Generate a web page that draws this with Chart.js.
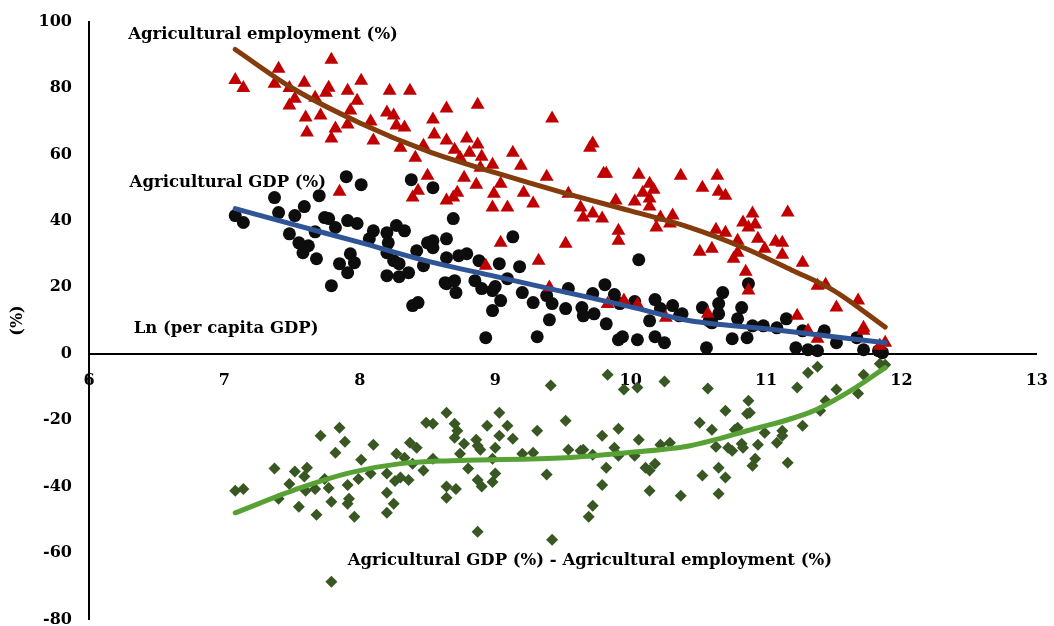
<!DOCTYPE html>
<html>
<head>
<meta charset="utf-8">
<script src="https://cdn.jsdelivr.net/npm/chart.js@4"></script>
<style>
  body { margin: 0; background: #fff; overflow: hidden; }
  canvas { display: block; margin-top: -5px; }
</style>
</head>
<body>
<canvas id="chart" width="1066" height="651"></canvas>
<script>
// scatter points: [ln per capita GDP, %]
const employment = [
  [7.08,82.4],[7.14,80],[7.40,85.8],[7.37,81.3],[7.48,80],[7.59,81.6],[7.52,76.8],[7.48,74.7],[7.79,88.5],[7.67,77.1],
  [7.75,78.6],[7.77,80.1],[7.60,71.1],[7.71,71.7],[7.61,66.6],[7.91,79.2],[8.01,82.2],[7.98,76.2],[7.93,73.2],[7.82,67.8],
  [7.79,64.8],[7.91,69],[8.08,69.9],[8.10,64.2],[8.22,79.2],[8.37,79.2],[8.20,72.6],[8.25,71.7],[8.27,68.7],[8.33,68.1],
  [8.64,73.8],[8.54,70.5],[8.55,66],[8.64,64.2],[8.30,62],[8.41,59],[8.50,53.6],[8.43,49.1],[8.39,47],[7.85,48.8],
  [8.47,62.6],[8.87,75],[9.42,70.8],[8.79,64.8],[8.87,63],[8.70,61.4],[8.81,60.5],[8.90,59.3],[8.74,59],[8.89,56],
  [8.98,56.9],[9.13,60.5],[9.19,56.6],[8.77,53],[9.04,51.2],[8.86,50.9],[9.38,53.3],[8.72,48.5],[8.69,47],[8.64,46.1],
  [8.99,48.2],[9.21,48.5],[8.98,44],[9.09,44],[9.28,45.2],[9.54,48.2],[9.70,62],[9.72,63.3],[9.80,54.2],[9.82,54.2],
  [10.06,53.9],[10.37,53.6],[9.63,44],[9.65,41],[9.72,42.2],[9.79,40.7],[9.89,46.1],[9.91,37],[9.91,34],[10.03,45.8],
  [10.09,48.5],[10.14,51.2],[10.17,49.4],[10.14,46.7],[10.14,44.3],[10.22,41],[10.31,41.6],[10.29,39.2],[10.19,38],[9.04,33.4],
  [9.52,33.1],[10.64,53.6],[10.53,50],[10.65,48.8],[10.70,47.6],[10.90,42.2],[10.83,39.5],[10.87,38],[10.92,38.9],[11.16,42.5],
  [10.63,37.3],[10.70,36.4],[10.79,34],[10.94,34.6],[11.07,33.7],[11.12,33.4],[10.99,31.6],[10.51,30.7],[10.60,31.6],[10.79,30.4],
  [10.76,28.6],[11.12,29.8],[11.27,27.4],[10.85,24.7],[10.87,19],[11.38,20.5],[11.44,20.8],[11.52,13.9],[11.68,16],[11.23,11.4],
  [10.57,12],[11.72,7.8],[11.38,4.5],[11.31,6.9],[11.72,6.9],[11.84,2.4],[11.88,3.3],[9.32,28],[8.93,26.5],[9.40,19.9],
  [9.83,15],[9.95,16],[10.05,14.8],[10.26,10.8]
];

const gdpShare = [
  [7.08,41.6],[7.14,39.5],[7.37,47],[7.40,42.5],[7.48,36.1],[7.52,41.6],[7.59,44.3],[7.55,33.4],[7.58,30.4],[7.62,32.5],
  [7.67,36.7],[7.68,28.6],[7.70,47.6],[7.74,41],[7.77,40.7],[7.82,38],[7.79,20.5],[7.85,27.1],[7.91,24.4],[7.93,30.1],
  [7.96,27.4],[7.91,40.1],[7.98,39.2],[7.90,53.3],[8.01,50.9],[8.10,37],[8.07,34.6],[8.20,36.4],[8.27,38.6],[8.33,37],
  [8.21,33.4],[8.20,30.4],[8.25,28],[8.29,27.1],[8.20,23.5],[8.29,23.2],[8.36,24.4],[8.42,31],[8.47,26.5],[8.50,33.4],
  [8.54,34],[8.54,31.9],[8.38,52.4],[8.54,50],[8.39,14.5],[8.43,15.4],[8.64,34.6],[8.64,21.1],[8.69,40.7],[9.13,35.2],
  [8.64,28.9],[8.73,29.5],[8.79,30.1],[8.88,28],[8.63,21.4],[8.70,22],[8.71,18.4],[8.85,22],[8.90,19.6],[8.98,19],
  [9.00,20.2],[9.03,27.1],[9.04,16],[9.09,22.6],[9.18,26.2],[8.98,13],[8.93,4.8],[9.20,18.4],[9.28,15.4],[9.38,17.5],
  [9.42,15.1],[9.40,10.2],[9.31,5.1],[9.52,13.6],[9.54,19.6],[9.64,13.9],[9.65,11.4],[9.72,18.1],[9.73,12],[9.81,20.8],
  [9.82,9],[9.88,17.8],[9.92,15.1],[9.91,4.2],[9.94,5.1],[10.05,4.2],[10.06,28.3],[10.03,15.7],[10.14,9.9],[10.18,16.3],
  [10.22,13.6],[10.18,5.1],[10.25,3.3],[10.31,14.5],[10.36,11.4],[10.38,12],[10.53,13.9],[10.65,15.1],[10.68,18.4],[10.87,21.1],
  [10.65,12],[10.60,9.3],[10.58,9.9],[10.82,13.9],[10.79,10.5],[10.75,4.5],[10.86,4.8],[10.90,8.4],[10.98,8.4],[11.08,7.8],
  [11.15,10.5],[10.56,1.8],[11.22,1.8],[11.27,6.9],[11.31,1.2],[11.38,0.9],[11.43,6.9],[11.52,3.3],[11.67,4.8],[11.72,1.2],
  [11.83,0.9],[11.86,0.3]
];

const gap = [
  [7.08,-41.3],[7.14,-40.7],[7.37,-34.6],[7.40,-43.7],[7.48,-39.2],[7.52,-35.5],[7.59,-37],[7.61,-34.3],[7.60,-41.3],[7.55,-46.1],
  [7.67,-40.7],[7.68,-48.5],[7.71,-24.7],[7.85,-22.3],[7.89,-26.5],[7.82,-29.8],[7.74,-37.7],[7.77,-40.4],[7.79,-44.6],[7.91,-39.5],
  [7.92,-43.7],[7.91,-45.2],[7.96,-49.1],[7.79,-68.7],[8.01,-31.9],[8.10,-27.4],[7.99,-37.7],[8.08,-36.1],[8.20,-36.1],[8.27,-30.1],
  [8.33,-31.3],[8.26,-38.3],[8.30,-37.3],[8.36,-38],[8.20,-41.9],[8.25,-45.2],[8.20,-47.9],[8.37,-26.8],[8.42,-28.3],[8.39,-33.1],
  [8.47,-35.2],[8.49,-20.8],[8.54,-21.1],[8.64,-17.8],[8.54,-31.6],[8.64,-40],[8.64,-43.4],[8.70,-21.1],[8.72,-23.2],[8.70,-25.3],
  [8.77,-27.1],[8.74,-30.1],[8.80,-34.6],[8.71,-40.7],[8.86,-25.9],[8.87,-27.7],[8.89,-28.9],[8.94,-21.7],[9.03,-17.8],[9.03,-24.7],
  [9.09,-21.7],[9.13,-25.6],[9.00,-28.3],[8.98,-31.6],[9.00,-36.1],[8.98,-38.6],[8.87,-38],[8.90,-40],[8.87,-53.6],[9.20,-30.1],
  [9.28,-29.8],[9.31,-23.2],[9.38,-36.4],[9.41,-9.6],[9.42,-56],[9.52,-20.2],[9.54,-28.9],[9.63,-29.2],[9.65,-28.9],[9.72,-30.4],
  [9.79,-24.7],[9.82,-34.3],[9.79,-39.5],[9.72,-45.8],[9.69,-49.1],[9.83,-6.3],[9.88,-28.3],[9.91,-30.7],[9.91,-22.6],[9.95,-10.8],
  [10.05,-10.2],[10.03,-30.7],[10.06,-25.9],[10.11,-34.3],[10.14,-35.2],[10.18,-33.1],[10.14,-41.3],[10.22,-27.4],[10.29,-26.8],[10.25,-8.4],
  [10.37,-42.8],[10.57,-10.5],[10.51,-20.8],[10.60,-22.9],[10.63,-28],[10.70,-17.2],[10.72,-28.3],[10.75,-29.2],[10.77,-22.9],[10.79,-22.3],
  [10.82,-27.1],[10.83,-28.3],[10.87,-14.2],[10.86,-18.1],[10.88,-17.8],[10.94,-27.4],[10.99,-23.8],[10.92,-31.6],[10.90,-33.7],[10.53,-36.7],
  [10.65,-34.3],[10.70,-37.3],[10.65,-42.2],[11.08,-26.8],[11.12,-23.2],[11.12,-24.7],[11.16,-32.8],[11.27,-21.7],[11.23,-10.2],[11.31,-5.7],
  [11.38,-3.9],[11.40,-17.2],[11.44,-14.2],[11.52,-10.8],[11.68,-12],[11.72,-6.3],[11.84,-3],[11.88,-3.3]
];

// fitted trend curves
const employmentTrend = [[7.08,91.6],[7.5,80],[8,69.5],[8.5,61],[9,54.5],[9.5,48.5],[10,43],[10.44,38],[10.83,32],[11.2,25],[11.5,19],[11.88,8]];
const gdpTrend = [[7.08,43.7],[7.5,39],[8,33.5],[8.5,27.9],[9,23.3],[9.5,18.7],[10,14.1],[10.44,9.9],[11,7.5],[11.5,5.1],[11.88,3.3]];
const gapTrend = [[7.08,-47.9],[7.56,-40.4],[7.93,-35.8],[8.3,-33.1],[8.67,-32.2],[9.52,-31.3],[9.97,-29.8],[10.44,-27.7],[10.86,-23.2],[11.35,-17.2],[11.65,-10.5],[11.88,-4.2]];

const xTicks = { min: 6, max: 13, step: 1 };
const yTicks = { min: -80, max: 100, step: 20 };

const seriesLabels = [
  { text: "Agricultural employment (%)", x: 6.29, y: 96.1 },
  { text: "Agricultural GDP (%)", x: 6.30, y: 51.4 },
  { text: "Ln (per capita GDP)", x: 6.33, y: 7.5 },
  { text: "Agricultural GDP (%) - Agricultural employment (%)", x: 7.91, y: -62.2 }
];

const toXY = (arr) => arr.map((p) => ({ x: p[0], y: p[1] }));

const fontFamily = "'DejaVu Serif', serif";

// draws the series names straight onto the plot
const labelPlugin = {
  id: "seriesLabels",
  afterDatasetsDraw(chart) {
    const { ctx, scales } = chart;
    ctx.save();
    ctx.fillStyle = "#000";
    ctx.font = "bold 16.5px " + fontFamily;
    ctx.textBaseline = "middle";
    ctx.textAlign = "left";
    seriesLabels.forEach((l) => {
      ctx.fillText(l.text, scales.x.getPixelForValue(l.x), scales.y.getPixelForValue(l.y));
    });
    ctx.restore();
  },
};

const trendLine = (data, color) => ({
  type: "scatter",
  data: toXY(data),
  showLine: true,
  borderColor: color,
  borderWidth: 5,
  borderCapStyle: "round",
  cubicInterpolationMode: "monotone",
  pointRadius: 0,
  fill: false,
});

const ctx = document.getElementById("chart").getContext("2d");

new Chart(ctx, {
  type: "scatter",
  data: {
    datasets: [
      trendLine(employmentTrend, "#843C0C"),
      trendLine(gdpTrend, "#2F5597"),
      trendLine(gapTrend, "#58A135"),
      {
        data: toXY(employment),
        pointStyle: "triangle",
        pointRadius: 8,
        backgroundColor: "#C00000",
        borderColor: "#C00000",
        borderWidth: 0,
      },
      {
        data: toXY(gdpShare),
        pointStyle: "circle",
        pointRadius: 6.5,
        backgroundColor: "#0D0D0D",
        borderColor: "#0D0D0D",
        borderWidth: 0,
      },
      {
        data: toXY(gap),
        pointStyle: "rectRot",
        pointRadius: 6,
        backgroundColor: "#385723",
        borderColor: "#385723",
        borderWidth: 0,
      },
    ],
  },
  options: {
    responsive: false,
    animation: false,
    layout: { padding: { top: 0, right: 0, bottom: 0, left: 4 } },
    plugins: {
      legend: { display: false },
      tooltip: { enabled: false },
    },
    scales: {
      x: {
        type: "linear",
        position: { y: 0 },
        min: xTicks.min,
        max: xTicks.max,
        ticks: {
          stepSize: xTicks.step,
          padding: 18,
          color: "#000",
          font: { family: fontFamily, size: 16, weight: "bold" },
        },
        grid: { display: false, drawTicks: false },
        border: { display: true, color: "#000", width: 2 },
      },
      y: {
        type: "linear",
        min: yTicks.min,
        max: yTicks.max,
        afterFit: (scale) => { scale.width = 85; },
        ticks: {
          stepSize: yTicks.step,
          padding: 17,
          color: "#000",
          font: { family: fontFamily, size: 16, weight: "bold" },
        },
        title: {
          display: true,
          text: "(%)",
          color: "#000",
          font: { family: fontFamily, size: 16, weight: "bold" },
        },
        grid: { display: false, drawTicks: false },
        border: { display: true, color: "#000", width: 2 },
      },
    },
  },
  plugins: [labelPlugin],
});
</script>
</body>
</html>
